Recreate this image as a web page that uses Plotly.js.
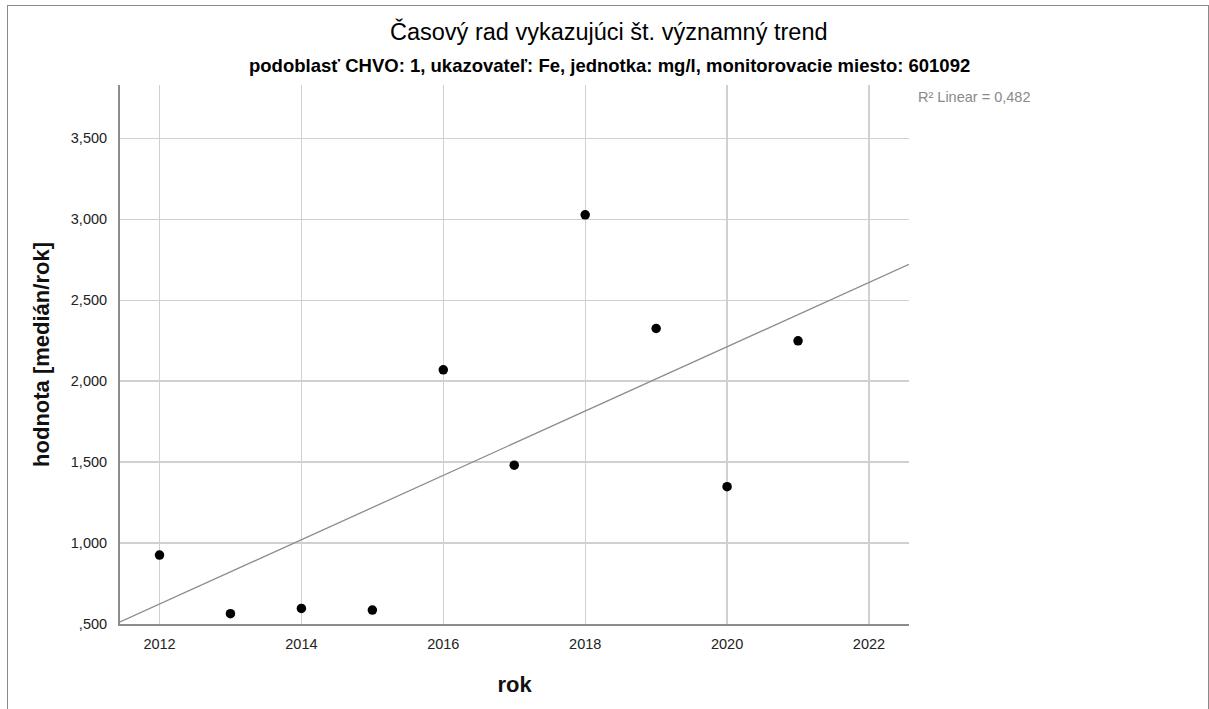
<!DOCTYPE html>
<html>
<head>
<meta charset="utf-8">
<script src="https://cdn.plot.ly/plotly-3.0.1.min.js"></script>
<style>
html,body{margin:0;padding:0;background:#fff;}
#wrap{position:relative;width:1209px;height:709px;}
#chart{width:1209px;height:709px;}
#frame{position:absolute;left:7px;top:5px;width:1200px;height:720px;border:1px solid #8a8a8a;pointer-events:none;}
</style>
</head>
<body>
<div id="wrap"><div id="chart"></div><div id="frame"></div></div>
<script>
// Data
const years = [2012, 2013, 2014, 2015, 2016, 2017, 2018, 2019, 2020, 2021];
const values = [0.926, 0.564, 0.596, 0.586, 2.070, 1.481, 3.027, 2.325, 1.348, 2.249];
const yTickVals = [0.5, 1.0, 1.5, 2.0, 2.5, 3.0, 3.5];
const yTickText = [",500", "1,000", "1,500", "2,000", "2,500", "3,000", "3,500"];
const xTickVals = [2012, 2014, 2016, 2018, 2020, 2022];
const xTickText = ["2012", "2014", "2016", "2018", "2020", "2022"];
const titleText = "Časový rad vykazujúci št. významný trend";
const subtitleText = "podoblasť CHVO: 1, ukazovateľ: Fe, jednotka: mg/l, monitorovacie miesto: 601092";
const r2Text = "R² Linear = 0,482";

const xRange = [2011.443, 2022.564];
const yRange = [0.5, 3.829];

// least-squares fit line derived from the data
const n = years.length;
const mx = years.reduce((a, b) => a + b, 0) / n;
const my = values.reduce((a, b) => a + b, 0) / n;
let sxy = 0, sxx = 0;
for (let i = 0; i < n; i++) { sxy += (years[i] - mx) * (values[i] - my); sxx += (years[i] - mx) ** 2; }
const slope = sxy / sxx;
const icpt = my - slope * mx;
const fitX = xRange.slice();
const fitY = fitX.map(x => icpt + slope * x);

const font = "Liberation Sans, Arial, sans-serif";

const traces = [
  {x: fitX, y: fitY, type: "scatter", mode: "lines", line: {color: "#8c8c8c", width: 1.3}, hoverinfo: "skip", showlegend: false, cliponaxis: true},
  {x: years, y: values, type: "scatter", mode: "markers", marker: {color: "#000", size: 9.5}, showlegend: false}
];

const layout = {
  width: 1209, height: 709,
  margin: {l: 120, r: 300, t: 85, b: 85},
  paper_bgcolor: "#fff", plot_bgcolor: "#fff",
  font: {family: font, color: "#222", size: 14},
  showlegend: false,
  xaxis: {
    range: xRange, tickvals: xTickVals, ticktext: xTickText,
    showgrid: true, gridcolor: "#d0d0d0", gridwidth: 1.3,
    showline: true, linecolor: "#8c8c8c", linewidth: 2, zeroline: false,
    ticks: "", ticklabelstandoff: 6, tickfont: {family: font, size: 14.5, color: "#222"},
    title: {text: "rok", font: {family: font, size: 22, color: "#111", weight: "bold"}, standoff: 25}
  },
  yaxis: {
    range: yRange, tickvals: yTickVals, ticktext: yTickText,
    showgrid: true, gridcolor: "#d0d0d0", gridwidth: 1.3,
    showline: true, linecolor: "#8c8c8c", linewidth: 2, zeroline: false,
    ticks: "", ticklabelstandoff: 8, tickfont: {family: font, size: 14.5, color: "#222"},
    title: {text: "hodnota [medián/rok]", font: {family: font, size: 22, color: "#111", weight: "bold"}, standoff: 15}
  },
  annotations: [
    {text: titleText, xref: "paper", yref: "paper", x: (609 - 120) / 789, y: (624 - 32) / 539, xanchor: "center", yanchor: "middle", showarrow: false, font: {family: font, size: 23.5, color: "#000"}},
    {text: "<b>" + subtitleText + "</b>", xref: "paper", yref: "paper", x: (609 - 120) / 789, y: (624 - 66) / 539, xanchor: "center", yanchor: "middle", showarrow: false, font: {family: font, size: 18.5, color: "#000"}},
    {text: r2Text, xref: "paper", yref: "paper", x: (916 - 120) / 789, y: (624 - 97) / 539, xanchor: "left", yanchor: "middle", showarrow: false, font: {family: font, size: 14.5, color: "#8a8a8a"}}
  ]
};

Plotly.newPlot("chart", traces, layout, {displayModeBar: false, staticPlot: true});
</script>
</body>
</html>
